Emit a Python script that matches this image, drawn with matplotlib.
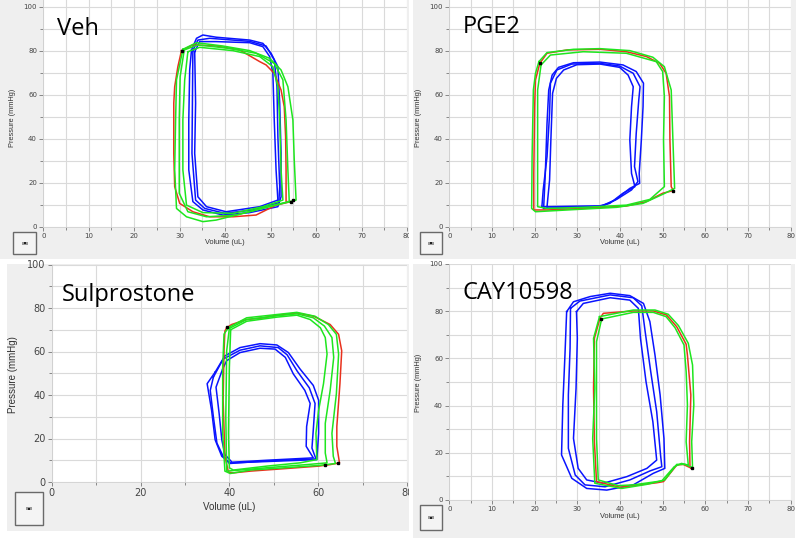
import matplotlib.pyplot as plt
from matplotlib.patches import Rectangle
from matplotlib.ticker import MultipleLocator

W, H = 800, 544

# traces: (volume uL, pressure mmHg)
veh_red = [(30.4, 80.0), (32.9, 82.6), (38.0, 82.1), (43.2, 80.3), (47.6, 75.0), (49.0, 73.5),
           (50.8, 69.7), (52.3, 62.1), (53.0, 54.5), (53.3, 40.9), (53.4, 25.8), (53.4, 11.4),
           (54.5, 11.4), (51.2, 9.8), (46.8, 5.3), (41.7, 4.5), (36.6, 4.5), (32.9, 6.8),
           (30.0, 10.6), (28.9, 18.2), (28.7, 33.3), (28.7, 56.1), (28.9, 63.6), (29.6, 72.7),
           (30.4, 80.0)]
veh_green_a = [(30.7, 80.6), (33.7, 83.6), (39.5, 82.1), (45.4, 80.0), (49.8, 76.5), (52.3, 71.2),
               (53.8, 63.6), (54.9, 48.5), (55.2, 30.3), (55.6, 12.1), (52.7, 10.6), (45.4, 6.8),
               (38.0, 3.0), (35.1, 2.3), (31.5, 4.5), (29.3, 8.3), (28.9, 25.8), (29.1, 48.5),
               (29.3, 66.7), (30.7, 80.6)]
veh_green_b = [(31.8, 79.5), (34.4, 81.5), (41.7, 80.0), (47.6, 77.3), (50.5, 72.7), (51.6, 63.6),
               (52.0, 48.5), (52.3, 25.8), (52.7, 12.1), (48.3, 9.1), (41.7, 6.1), (35.1, 6.4),
               (31.5, 9.8), (30.7, 25.8), (30.7, 48.5), (31.1, 66.7), (31.8, 79.5)]
veh_green_c = [(31.0, 80.3), (34.0, 82.6), (40.9, 81.0), (46.8, 78.8), (50.8, 74.2), (52.7, 66.7),
               (53.4, 48.5), (53.8, 25.8), (54.1, 11.4), (49.8, 9.4), (42.4, 5.3), (35.9, 4.5),
               (31.8, 6.8), (29.9, 15.2), (29.9, 48.5), (30.1, 68.2), (31.0, 80.3)]
veh_blue_a = [(32.6, 80.3), (33.7, 85.6), (35.1, 87.1), (38.0, 86.1), (45.4, 84.8), (48.3, 83.3),
              (50.1, 78.8), (51.6, 72.7), (52.0, 56.1), (52.3, 33.3), (52.3, 13.6), (51.6, 9.1),
              (45.4, 6.4), (39.5, 5.3), (35.1, 7.6), (32.9, 11.4), (32.0, 25.8), (32.0, 48.5),
              (32.2, 71.2), (32.6, 80.3)]
veh_blue_b = [(33.3, 79.5), (34.4, 84.1), (38.0, 84.1), (45.4, 83.6), (48.3, 81.8), (49.8, 77.3),
              (50.5, 69.7), (50.8, 48.5), (51.2, 25.8), (51.6, 12.1), (47.6, 9.1), (40.2, 6.8),
              (35.9, 9.1), (34.0, 13.6), (33.3, 33.3), (33.5, 56.1), (33.3, 79.5)]
veh_blue_c = [(32.9, 80.0), (34.0, 84.8), (36.6, 85.6), (45.4, 84.2), (49.0, 82.1), (50.8, 75.8),
              (51.4, 63.6), (51.6, 40.9), (52.0, 18.2), (51.8, 10.9), (46.1, 7.6), (39.9, 6.1),
              (35.5, 8.3), (33.5, 12.1), (32.7, 33.3), (32.8, 56.1), (32.9, 80.0)]
veh_marks = [(30.4, 80.0), (54.5, 11.4), (54.9, 12.0)]

pge2_red = [(21.2, 74.2), (22.9, 78.8), (27.6, 80.3), (35.3, 80.6), (41.5, 79.5), (46.2, 77.3),
            (49.3, 74.2), (50.8, 69.7), (51.6, 59.1), (51.7, 39.4), (52.0, 18.2), (52.5, 16.4),
            (50.0, 15.2), (46.2, 11.4), (41.5, 9.4), (31.4, 8.3), (22.9, 7.6), (19.8, 7.6),
            (19.8, 24.2), (20.0, 54.5), (20.2, 66.7), (21.2, 74.2)]
pge2_green_a = [(21.0, 75.0), (22.9, 79.1), (29.1, 80.6), (35.3, 80.9), (42.3, 80.0), (47.7, 77.0),
                (50.4, 72.7), (52.0, 62.1), (52.4, 39.4), (52.8, 17.4), (50.1, 14.8), (45.4, 10.6),
                (39.2, 8.8), (27.6, 7.6), (20.2, 6.8), (19.3, 8.3), (19.4, 31.8), (19.7, 62.1),
                (20.2, 69.7), (21.0, 75.0)]
pge2_green_b = [(21.5, 73.5), (23.7, 78.0), (31.4, 79.5), (41.5, 78.8), (48.5, 75.0), (50.0, 70.5),
                (50.4, 59.1), (50.2, 39.4), (50.4, 18.2), (47.0, 12.4), (41.5, 9.8), (31.4, 8.8),
                (22.9, 8.3), (20.7, 9.1), (20.7, 31.8), (20.7, 62.1), (21.5, 73.5)]
pge2_blue_a = [(22.1, 8.3), (35.3, 9.1), (38.8, 12.1), (42.3, 17.4), (44.6, 19.7), (44.5, 24.2),
               (45.0, 39.4), (45.4, 54.5), (45.5, 65.2), (43.8, 70.5), (40.7, 73.5), (35.3, 74.8),
               (29.1, 74.5), (25.6, 72.4), (24.1, 68.9), (23.3, 62.1), (22.9, 47.0), (22.5, 24.2),
               (22.1, 8.3)]
pge2_blue_b = [(22.9, 9.1), (35.3, 9.5), (37.6, 10.6), (40.7, 15.2), (43.5, 18.2), (42.7, 24.2),
               (42.3, 39.4), (42.7, 54.5), (43.1, 63.6), (41.9, 68.9), (39.9, 72.4), (35.3, 73.9),
               (29.9, 73.6), (26.8, 71.2), (25.1, 67.4), (24.2, 60.6), (23.8, 39.4), (23.5, 21.2),
               (22.9, 9.1)]
pge2_blue_c = [(21.7, 9.1), (35.3, 8.8), (39.2, 12.4), (42.7, 16.7), (44.2, 20.5), (43.4, 27.3),
               (43.8, 42.4), (44.4, 57.6), (44.7, 63.6), (43.1, 69.7), (39.9, 73.0), (35.3, 74.2),
               (28.7, 73.9), (25.2, 71.2), (23.7, 65.2), (23.5, 51.5), (22.9, 31.8), (22.0, 16.7),
               (21.7, 9.1)]
pge2_marks = [(21.2, 74.5), (52.5, 16.4)]

sulp_red = [(39.4, 70.9), (40.5, 72.4), (43.9, 74.7), (47.7, 75.5), (50.7, 76.7), (55.2, 77.7),
            (59.0, 76.2), (62.7, 72.4), (64.6, 67.9), (65.3, 60.3), (64.9, 45.2), (64.2, 25.5),
            (64.2, 16.4), (64.8, 8.8), (62.7, 8.0), (60.1, 7.3), (52.2, 6.1), (44.7, 5.0),
            (40.9, 4.2), (39.8, 4.5), (39.0, 11.8), (38.6, 37.6), (38.8, 60.3), (39.0, 69.4),
            (39.4, 70.9)]
sulp_green_a = [(39.8, 71.0), (43.9, 75.5), (50.7, 77.0), (55.2, 78.0), (59.3, 76.2), (62.3, 72.4),
                (64.1, 67.9), (64.6, 58.8), (64.1, 40.6), (63.1, 22.4), (63.4, 11.8), (63.9, 8.5),
                (60.1, 7.6), (52.2, 6.5), (44.7, 5.5), (40.2, 3.9), (39.0, 5.0), (38.5, 22.4),
                (38.5, 52.7), (38.8, 68.0), (39.8, 71.0)]
sulp_green_b = [(40.3, 70.0), (43.9, 73.9), (50.7, 75.8), (55.2, 76.7), (58.2, 74.7), (60.5, 70.9),
                (61.6, 66.4), (62.0, 58.8), (61.2, 45.2), (60.1, 33.0), (59.5, 22.4), (59.7, 10.3),
                (55.9, 8.8), (48.4, 7.3), (40.9, 5.5), (40.0, 6.5), (39.8, 22.4), (40.0, 52.7),
                (40.3, 70.0)]
sulp_green_c = [(40.0, 70.6), (43.9, 74.7), (50.7, 76.4), (55.2, 77.3), (58.9, 75.5), (61.4, 71.7),
                (63.1, 66.4), (63.5, 57.3), (62.7, 42.1), (61.6, 27.0), (61.6, 13.3), (62.0, 8.8),
                (57.4, 8.0), (49.9, 6.8), (42.4, 5.5), (39.4, 5.0), (39.2, 30.0), (39.4, 60.3),
                (40.0, 70.6)]
sulp_blue_a = [(36.8, 50.5), (39.0, 58.0), (42.4, 61.8), (46.9, 63.6), (50.7, 63.0), (53.3, 59.5),
               (55.9, 52.0), (58.9, 44.4), (60.1, 37.6), (60.1, 22.4), (59.7, 10.3), (48.4, 9.4),
               (40.2, 8.8), (38.3, 11.8), (36.8, 19.4), (36.0, 33.0), (35.0, 45.2), (36.8, 50.5)]
sulp_blue_b = [(38.5, 52.0), (39.4, 55.8), (42.4, 59.5), (46.9, 61.5), (50.3, 61.1), (52.6, 57.3),
               (54.4, 49.7), (57.0, 42.1), (58.2, 36.1), (57.4, 25.5), (57.3, 16.4), (58.9, 11.1),
               (48.4, 10.0), (40.6, 9.1), (39.0, 12.6), (38.3, 19.4), (37.7, 31.5), (37.0, 43.6),
               (38.5, 52.0)]
sulp_blue_c = [(36.4, 48.2), (38.6, 56.5), (42.4, 60.6), (46.9, 62.6), (51.0, 61.8), (53.0, 58.5),
               (55.3, 50.9), (58.0, 43.3), (59.3, 36.1), (58.9, 24.0), (58.6, 15.6), (59.5, 10.6),
               (48.4, 9.7), (40.0, 8.5), (38.6, 11.8), (37.2, 17.9), (36.4, 30.0), (35.7, 42.1),
               (36.4, 48.2)]
sulp_marks = [(39.4, 71.2), (61.5, 8.0), (64.5, 8.6)]

cay_red = [(35.3, 77.0), (36.1, 79.1), (43.1, 80.1), (47.8, 80.1), (50.9, 78.4), (53.3, 73.4),
           (55.5, 66.0), (55.8, 61.4), (56.6, 44.5), (56.3, 24.7), (56.4, 14.1), (56.8, 13.4),
           (54.8, 15.1), (53.3, 14.8), (50.2, 7.8), (48.6, 7.3), (40.0, 5.4), (34.5, 7.8),
           (34.0, 24.7), (33.8, 47.3), (34.0, 68.5), (35.3, 77.0)]
cay_green_a = [(35.2, 77.7), (43.1, 80.5), (48.2, 80.5), (51.3, 78.7), (53.7, 73.9), (56.0, 66.4),
               (57.0, 57.2), (57.3, 40.3), (56.8, 24.7), (57.0, 13.7), (55.2, 15.1), (53.3, 15.1),
               (50.5, 8.5), (46.2, 6.6), (40.4, 4.9), (34.1, 7.1), (33.6, 26.1), (34.1, 47.3),
               (33.8, 68.5), (35.2, 77.7)]
cay_green_b = [(35.7, 76.7), (43.1, 79.5), (47.8, 79.5), (50.8, 77.7), (52.9, 73.0), (55.0, 65.7),
               (55.5, 54.4), (55.8, 40.3), (55.5, 24.7), (56.0, 14.8), (54.4, 15.5), (52.7, 14.1),
               (49.8, 8.1), (43.1, 6.4), (39.6, 6.1), (34.9, 8.5), (34.5, 26.1), (34.5, 47.3),
               (34.5, 67.1), (35.7, 76.7)]
cay_blue_a = [(27.5, 79.8), (29.1, 84.0), (33.0, 86.2), (37.7, 87.6), (42.3, 86.6), (45.5, 83.3),
              (47.0, 75.6), (48.2, 61.4), (49.4, 44.5), (50.3, 26.1), (50.5, 13.4), (47.8, 11.3),
              (43.1, 6.4), (36.9, 4.2), (32.2, 4.9), (28.7, 9.2), (26.3, 19.1), (26.6, 40.3),
              (27.1, 61.4), (27.5, 79.8)]
cay_blue_b = [(29.8, 79.8), (31.4, 83.3), (37.7, 85.7), (42.3, 84.7), (44.3, 81.2), (44.8, 68.5),
              (46.1, 50.1), (47.7, 33.2), (48.6, 16.9), (46.3, 13.4), (41.6, 9.9), (36.1, 7.1),
              (32.2, 8.5), (30.2, 13.4), (29.1, 26.1), (29.7, 47.3), (30.0, 68.5), (29.8, 79.8)]
cay_blue_c = [(28.4, 81.2), (30.6, 84.3), (37.7, 86.9), (43.1, 85.7), (45.1, 82.3), (45.9, 71.3),
              (47.2, 54.4), (48.6, 37.4), (49.5, 19.1), (49.8, 14.1), (47.0, 12.3), (42.3, 8.5),
              (36.5, 5.6), (31.8, 6.4), (29.5, 10.6), (27.9, 21.9), (27.9, 44.5), (28.3, 64.3),
              (28.4, 81.2)]
cay_marks = [(35.5, 76.5), (56.8, 13.4)]

titles = ['Veh', 'PGE2', 'Sulprostone', 'CAY10598']

BLUE, GREEN, RED = '#0a14ff', '#1ee61e', '#e8321e'


def fig_rect(x0, y0, x1, y1):
    # pixel box (top-left origin) -> figure fraction rect
    return [x0 / W, 1 - y1 / H, (x1 - x0) / W, (y1 - y0) / H]


def trace(ax, pts, color, lw=1.1, z=2):
    ax.plot([p[0] for p in pts], [p[1] for p in pts], color=color, lw=lw, zorder=z,
            solid_joinstyle='round')


fig = plt.figure(figsize=(8, 5.44), dpi=100)

panels = [
    dict(title=titles[0], bg=(0, 0, 409, 259), plot=(43.3, 0, 407, 226.7), ytop=103,
         xmaj=10, xmin=5, fs=5, lfs=5.3, btn=(13, 232, 36, 254), tpos=(57, 35),
         xl=(-0.0675,), yl=(-0.086, 0.48),
         blue=[veh_blue_a, veh_blue_b, veh_blue_c], red=veh_red,
         green=[veh_green_a, veh_green_b, veh_green_c], marks=veh_marks),
    dict(title=titles[1], bg=(413, 0, 796, 259), plot=(449.3, 0, 790.7, 226.7), ytop=103,
         xmaj=10, xmin=5, fs=5, lfs=5.3, btn=(420, 232, 442, 254), tpos=(463, 33),
         xl=(-0.0675,), yl=(-0.089, 0.48),
         blue=[pge2_blue_a, pge2_blue_b, pge2_blue_c], red=pge2_red,
         green=[pge2_green_a, pge2_green_b], marks=pge2_marks),
    dict(title=titles[2], bg=(7, 264, 409, 531), plot=(51.7, 264.5, 407, 482), ytop=100,
         xmaj=20, xmin=10, fs=7, lfs=7, btn=(15, 492, 43, 525), tpos=(62, 300.7),
         xl=(-0.115,), yl=(-0.109, 0.492),
         blue=[sulp_blue_a, sulp_blue_b, sulp_blue_c], red=sulp_red,
         green=[sulp_green_a, sulp_green_b, sulp_green_c], marks=sulp_marks),
    dict(title=titles[3], bg=(413, 264, 795, 538), plot=(449.3, 264, 790.7, 500), ytop=100,
         xmaj=10, xmin=5, fs=5, lfs=5.3, btn=(420, 505, 442, 530), tpos=(463, 299),
         xl=(-0.072,), yl=(-0.089, 0.496),
         blue=[cay_blue_a, cay_blue_b, cay_blue_c], red=cay_red,
         green=[cay_green_a, cay_green_b], marks=cay_marks),
]

for p in panels:
    bx0, by0, bx1, by1 = p['bg']
    bg = Rectangle((bx0 / W, 1 - by1 / H), (bx1 - bx0) / W, (by1 - by0) / H,
                   transform=fig.transFigure, fc='#efefef', ec='none', zorder=-5)
    fig.add_artist(bg)

    ax = fig.add_axes(fig_rect(*p['plot']))
    ax.set_facecolor('white')
    ax.set_xlim(0, 80)
    ax.set_ylim(0, p['ytop'])
    ax.xaxis.set_major_locator(MultipleLocator(p['xmaj']))
    ax.xaxis.set_minor_locator(MultipleLocator(p['xmin']))
    ax.yaxis.set_major_locator(MultipleLocator(20))
    ax.yaxis.set_minor_locator(MultipleLocator(10))
    ax.grid(which='both', color='#dadada', lw=0.8, zorder=0)
    ax.set_axisbelow(True)
    for s in ['top', 'right']:
        ax.spines[s].set_visible(False)
    for s in ['left', 'bottom']:
        ax.spines[s].set_color('#d0d0d0')
        ax.spines[s].set_linewidth(0.6)
    ax.tick_params(which='both', direction='out', length=3, width=0.6, color='#777777',
                   labelsize=p['fs'], labelcolor='#444444', pad=1.5)
    ax.tick_params(which='minor', length=2)

    for t in p['blue']:
        trace(ax, t, BLUE, z=2)
    trace(ax, p['red'], RED, z=3)
    for t in p['green']:
        trace(ax, t, GREEN, z=4)
    ax.plot([m[0] for m in p['marks']], [m[1] for m in p['marks']], 's', color='black',
            ms=1.8, zorder=5)

    ax.set_xlabel('Volume (uL)', family='Liberation Sans', fontsize=p['lfs'],
                  color='#333333', va='center')
    ax.xaxis.set_label_coords(0.5, p['xl'][0])
    ax.set_ylabel('Pressure (mmHg)', family='Liberation Sans', fontsize=p['lfs'],
                  color='#333333', va='center')
    ax.yaxis.set_label_coords(*p['yl'])

    # the screenshots crop the last x tick label at the panel edge
    for tk in ax.xaxis.get_major_ticks():
        tk.label1.set_clip_path(bg)

    tx, ty = p['tpos']
    fig.text(tx / W, 1 - ty / H, p['title'], family='Open Sans', fontsize=17,
             va='baseline', ha='left', color='black')

    x0, y0, x1, y1 = p['btn']
    fig.add_artist(Rectangle((x0 / W, 1 - y1 / H), (x1 - x0) / W, (y1 - y0) / H,
                             transform=fig.transFigure, fc='#f4f4f4', ec='#6a6a6a',
                             lw=1.0, zorder=1))
    cx, cy = (x0 + x1) / 2, (y0 + y1) / 2
    fig.add_artist(Rectangle(((cx - 3) / W, 1 - (cy + 1.5) / H), 6 / W, 3 / H,
                             transform=fig.transFigure, fc='#9a9a9a', ec='none', zorder=2))
    fig.add_artist(Rectangle(((cx - 1) / W, 1 - (cy + 1) / H), 2 / W, 2 / H,
                             transform=fig.transFigure, fc='#202020', ec='none', zorder=3))

plt.savefig('out.png', dpi=100, facecolor='white')
plt.close()
